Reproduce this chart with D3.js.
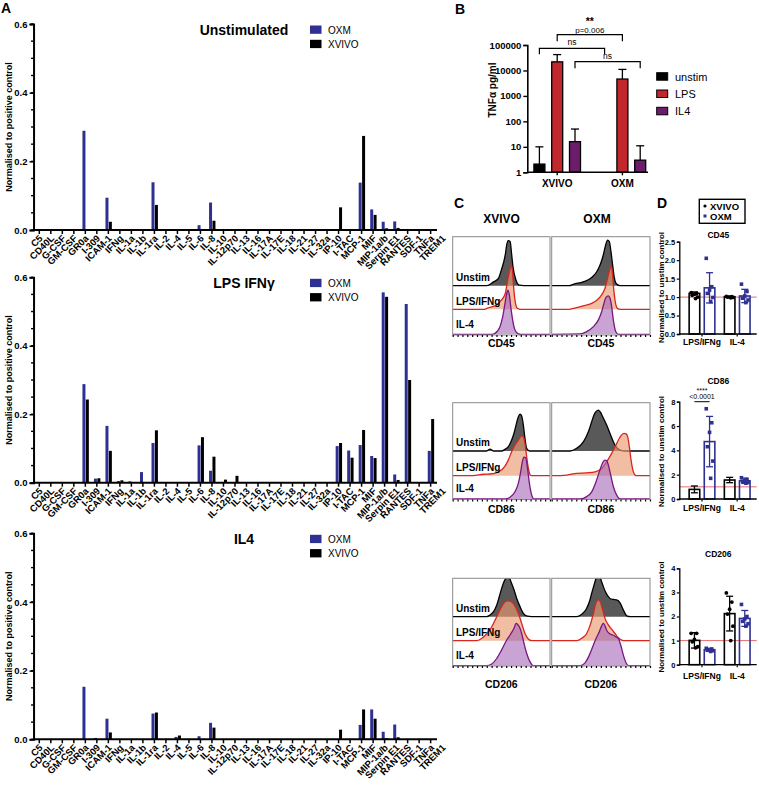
<!DOCTYPE html>
<html><head><meta charset="utf-8">
<script src="https://cdn.jsdelivr.net/npm/d3@7"></script>
<style>
body{margin:0;background:#fff;}
svg{display:block;font-family:"Liberation Sans",Arial,Helvetica,sans-serif;}
</style></head><body>
<svg id="fig" width="759" height="789"></svg>
<script>
// ---------------- DATA ----------------
const cytokines = ["C5","CD40L","G-CSF","GM-CSF","GR0a","I-309","ICAM-1","IFNg","IL-1a","IL-1b","IL-1ra","IL-2","IL-4","IL-5","IL-6","IL-8","IL-10","IL-12p70","IL-13","IL-16","IL-17A","IL-17E","IL-18","IL-21","IL-27","IL-32a","IP-10","I-TAC","MCP-1","MIF","MIP-1a/b","Serpin E1","RANTES","SDF-1","TNFa","TREM1"];
const unstimOXM   = [0, 0, 0, 0, 0.289,0.003,0.094,0,    0,    0,    0.139,0,  0,  0,  0.014,0.080,0,    0,    0, 0, 0,  0,  0, 0, 0, 0,  0,    0,    0.138,0.060,0.024,0.025,0,    0.002,0,    0];
const unstimXVIVO = [0, 0, 0, 0, 0,    0,    0.024,0,    0,    0,    0.073,0,  0,  0,  0,    0.027,0,    0,    0, 0, 0,  0,  0, 0, 0, 0,  0.066,0,    0.274,0.044,0.005,0.006,0,    0.002,0,    0];
const lpsOXM      = [0, 0, 0, 0, 0.288,0.012,0.166,0.005,0.004,0.031,0.116,0,  0,  0,  0.109,0.035,0,    0,    0, 0, 0,  0,  0, 0, 0, 0,  0.107,0.094,0.110,0.078,0.556,0.024,0.522,0.002,0.093,0];
const lpsXVIVO    = [0, 0, 0, 0, 0.243,0.013,0.093,0.007,0,    0,    0.153,0,  0,  0,  0.133,0.076,0.009,0.020,0, 0, 0,  0,  0, 0, 0, 0,  0.116,0.073,0.154,0.072,0.543,0.008,0.300,0,    0.186,0];
const il4OXM      = [0, 0, 0, 0, 0.153,0.004,0.060,0,    0,    0,    0.075,0,  0.007,0,0.009,0.048,0,    0,    0, 0, 0,  0,  0, 0, 0, 0,  0,    0,    0.042,0.087,0.022,0.043,0,    0,    0,    0];
const il4XVIVO    = [0, 0, 0, 0, 0,    0,    0.020,0,    0,    0,    0.078,0,  0.011,0,0,    0.034,0,    0,    0, 0, 0,  0,  0, 0, 0, 0,  0.028,0,    0.087,0.060,0.003,0.006,0,    0,    0,    0];
const yTicksA = [0, 0.2, 0.4, 0.6];

// Panel B: TNFa pg/ml
const mediaB = ["XVIVO","OXM"];
const condB = ["unstim","LPS","IL4"];
const tnfXVIVO    = [2.1, 21800, 16];
const tnfXVIVOTop = [10, 42000, 50];
const tnfOXM      = [null, 4600, 3];
const tnfOXMTop   = [null, 11000, 11];
const yTicksB = [1,10,100,1000,10000,100000];

// Panel C: flow histograms [channel, % of mode]
const hist = {
 CD45: {
  XVIVO: {
   unstim: [[0,0],[35,0],[42,8],[47,15],[50,33],[54,64],[55.5,85],[57,94],[59,92],[60.5,67],[62,39],[65,12],[68.5,1],[73,0],[100,0]],
   lps:    [[0,0],[33,0],[35,2],[45,9],[50,19],[54,33],[56.5,61],[59,85],[60,91],[61.3,82],[62.3,54],[64,19],[66.4,2],[69,0],[100,0]],
   il4:    [[0,0],[40,0],[43.5,2],[48.6,16],[51.4,37],[53.8,65],[55.5,85],[56.8,92],[58.2,82],[59.9,54],[61.6,30],[64,9],[67.5,1],[70,0],[100,0]]
  },
  OXM: {
   unstim: [[0,0],[18,0],[22,3],[32,8],[40.7,17],[45.8,29],[49.2,43],[52.5,64],[54.9,85],[56.9,95],[58.6,92],[60.3,71],[62,43],[63.7,17],[66,3.5],[69.5,0],[100,0]],
   lps:    [[0,0],[18,0],[22,2],[32,7],[40.7,12.5],[45.8,19],[50.8,30],[54.2,44],[56.9,65],[59.3,85],[60.3,90],[61.7,78],[62.7,51],[64.4,19],[66.8,2],[70,0],[100,0]],
   il4:    [[0,0],[28.8,0.7],[35.6,5.6],[42.4,16],[47.5,30],[50.8,47],[53.2,65],[55.3,77],[57.6,80],[59.3,75],[61,58],[62.7,30],[65.1,6],[68,0],[100,0]]
  }
 },
 CD86: {
  XVIVO: {
   unstim: [[0,0],[34.9,0],[38.4,4],[41.8,0],[50,0],[53.8,3.5],[57.2,9],[60.6,23],[63,37],[65.1,54],[67.5,71.5],[69.2,77],[70.9,73],[72.6,54],[74.3,26],[76,5.6],[79,0],[100,0]],
   lps:    [[0,0],[21,0],[31.5,3],[38.4,3.5],[46.9,8],[53.8,20],[57.2,33],[60.6,50],[64,64],[67.5,74],[70.9,83],[72.6,81],[74.3,67],[76,40],[78.1,12],[80,1],[82,0],[100,0]],
   il4:    [[0,0],[53.8,0],[58.9,3.5],[64,15],[67.5,33],[69.9,57],[71.6,78],[73.3,87],[75,86],[76.7,67],[78.8,33],[81.2,8],[83.6,0],[100,0]]
  },
  OXM: {
   unstim: [[0,0],[18.6,0],[25.4,5.6],[32.2,19],[37.3,40],[40.7,61],[43,75],[45.1,82],[47.5,85],[49.2,82],[51.9,71.5],[55.9,54],[60,33],[63.4,16],[66.8,5.6],[71,0.7],[74,0],[100,0]],
   lps:    [[0,0],[15.3,1.4],[25.4,5],[35.6,6],[44.1,8],[50.8,15],[55.9,29],[61,46.5],[65.4,64],[68.8,78],[71.2,85],[73.6,88],[75.6,87],[77.3,81],[79,60],[80.7,33],[83.1,8],[85.8,0],[100,0]],
   il4:    [[0,0],[28.8,0],[35.6,5],[40.7,15],[45.1,36],[48.5,57],[51.5,74],[54.2,81],[55.9,80],[57.6,71],[60,50],[62.7,26],[66.1,8],[69.5,0],[100,0]]
  }
 },
 CD206: {
  XVIVO: {
   unstim: [[0,0],[34.9,0],[38.4,3.5],[41.8,10],[45.2,24],[47.9,42],[50.3,59],[52.7,73],[54.8,80],[57.2,82],[58.9,78],[60.6,69],[63,56],[65.8,38],[69.2,21],[72.6,7],[76.7,1],[81,0],[100,0]],
   lps:    [[0,0],[24.7,0],[29.8,5],[34.9,14],[40.1,29],[45.2,50],[50.3,71],[53.8,81],[56.5,83],[58.9,82.6],[61.6,79],[64.4,71],[67.5,57],[70.9,36],[74.3,15],[77.7,3.5],[81.2,0],[100,0]],
   il4:    [[0,0],[34.9,0],[40.1,3.5],[45.2,15],[50.3,33],[55.5,53.5],[59.6,66],[63,78],[65.1,88],[66.8,86],[68.5,81],[70.9,67],[73.3,46.5],[76,26],[79.5,8],[83,0],[100,0]]
  },
  OXM: {
   unstim: [[0,0],[25.4,0],[30.5,5],[34.9,15],[38.3,31],[40.7,49],[43.1,66],[45.1,80],[46.8,87],[48.5,85],[50.8,73],[53.2,59],[55.9,47],[59.3,38],[62.7,36],[66.1,35],[69.5,29],[72.2,17],[74.6,7],[76.9,1],[80,0],[100,0]],
   lps:    [[0,0],[25.4,0],[30.5,5],[35.6,15],[39.7,36],[42.4,57],[44.4,74],[46.1,83],[47.8,85],[49.8,79],[51.9,64],[54.2,46.5],[57.6,33],[61,24],[64.4,15],[67.8,6],[71.2,1.4],[74.6,0],[100,0]],
   il4:    [[0,0],[28.8,0],[33.9,6],[38.3,22],[42.4,43],[45.8,60],[48.5,71],[50.8,83],[52.5,88],[54.2,83],[55.9,74],[58.6,67],[62,64],[65.4,60],[67.8,57],[70.2,43],[72.9,22],[75.6,6],[78.3,0],[100,0]]
  }
 }
};
const histRowLabels = ["Unstim","LPS/IFNg","IL-4"];

// Panel D: normalised to unstim control
const groupsD = ["LPS/IFNg","IL-4"];
const cd45Mean = {XVIVO:[1.10,1.01], OXM:[1.25,1.03]};
const cd45SD   = {XVIVO:[0.04,0.015], OXM:[0.41,0.18]};
const cd45Pts  = {XVIVO:[[1.12,1.10,1.08,1.05,1.00,0.96],[1.02,1.01,1.00,1.00,0.99,0.98]],
                  OXM:[[2.05,1.28,1.19,1.10,0.99,0.88],[1.35,1.15,1.03,0.97,0.92,0.85]]};
const cd86Mean = {XVIVO:[0.79,1.56], OXM:[4.72,1.50]};
const cd86SD   = {XVIVO:[0.28,0.22], OXM:[2.07,0.22]};
const cd86Pts  = {XVIVO:[[],[]],
                  OXM:[[7.42,6.27,5.48,4.30,3.12,1.70],[1.75,1.60,1.50,1.45,1.35,1.30]]};
const cd206Mean = {XVIVO:[1.01,2.12], OXM:[0.62,1.92]};
const cd206SD   = {XVIVO:[0.32,0.72], OXM:[0.06,0.33]};
const cd206Pts  = {XVIVO:[[1.30,1.30,1.05,0.95,0.75,0.70],[2.98,2.60,2.30,2.10,1.60,1.00]],
                   OXM:[[0.68,0.65,0.62,0.60,0.58,0.55],[2.50,2.00,1.90,1.80,1.70,1.60]]};
const dTicks45 = [0,0.5,1,1.5,2,2.5];
const dTicks86 = [0,2,4,6,8];
const dTicks206 = [0,1,2,3,4];

// ---------------- DRAWING ----------------
const svg = d3.select("#fig");
const BLUE = "#2e3192", RED = "#c1272d", PURPLE = "#6b1d6b";

function label(x, y, s, size, weight, anchor, fill) {
  return svg.append("text").attr("x", x).attr("y", y).text(s)
    .attr("font-size", size).attr("font-weight", weight || "bold")
    .attr("text-anchor", anchor || "start").attr("fill", fill || "#000");
}

// ===== Panel A =====
label(1, 13, "A", 14, "bold");
const xA = d3.scaleBand().domain(cytokines).range([33.55, 33.55 + 36 * 11.51]);
const subA = d3.scaleBand().domain(["OXM","XVIVO"])
  .range([xA.bandwidth()/2 - 2.9, xA.bandwidth()/2 + 3.5]).paddingInner(0.12);
const A_END = 437;
const panelsA = [
  {title:"Unstimulated", oxm:unstimOXM, xvivo:unstimXVIVO, top:24, bottom:230},
  {title:"LPS IFN\u03b3", oxm:lpsOXM, xvivo:lpsXVIVO, top:277.3, bottom:482.7},
  {title:"IL4", oxm:il4OXM, xvivo:il4XVIVO, top:533.3, bottom:739.3}
];
panelsA.forEach(p => {
  const y = d3.scaleLinear().domain([0, 0.6]).range([p.bottom, p.top]);
  const g = svg.append("g");
  const rows = cytokines.map((c, i) => ({c, OXM: p.oxm[i], XVIVO: p.xvivo[i]}));
  [["OXM", BLUE], ["XVIVO", "#000"]].forEach(([k, col]) => {
    g.selectAll(null).data(rows.filter(d => d[k] > 0 && xA(d.c) + subA(k) + subA.bandwidth() < A_END))
      .join("rect")
      .attr("x", d => xA(d.c) + subA(k)).attr("width", subA.bandwidth())
      .attr("y", d => y(d[k])).attr("height", d => y(0) - y(d[k]))
      .attr("fill", col);
  });
  const minor = g.append("g").attr("transform", `translate(${33.55},0)`);
  minor.selectAll("line").data(y.ticks(12)).join("line")
    .attr("x1", -2.5).attr("x2", 0).attr("y1", d => y(d)).attr("y2", d => y(d))
    .attr("stroke", "#000").attr("stroke-width", 1.4);
  const ya = g.append("g").attr("transform", `translate(${33.55},0)`)
    .call(d3.axisLeft(y).tickValues(yTicksA).tickFormat(d3.format(".1f")).tickSize(4).tickPadding(2));
  ya.select(".domain").attr("stroke-width", 2);
  ya.selectAll(".tick line").attr("stroke-width", 1.5);
  ya.selectAll("text").attr("font-size", 9.5).attr("font-weight", "bold").attr("font-family", null);
  const xa = g.append("g").attr("transform", `translate(0,${p.bottom})`)
    .call(d3.axisBottom(xA).tickSize(4));
  xa.select(".domain").remove();
  xa.selectAll(".tick line").attr("stroke-width", 1.5)
    .attr("opacity", d => xA(d) + xA.bandwidth()/2 < A_END ? 1 : 0);
  xa.selectAll("text").attr("font-size", 9.5).attr("font-weight", "bold").attr("font-family", null)
    .attr("y", null).attr("dy", null).attr("text-anchor", "end")
    .attr("transform", "translate(4,9) rotate(-45)");
  g.append("line").attr("x1", 33.55).attr("x2", A_END).attr("y1", p.bottom).attr("y2", p.bottom)
    .attr("stroke", "#000").attr("stroke-width", 2);
  svg.append("text").attr("transform", `translate(11.5,${(p.top + p.bottom)/2}) rotate(-90)`)
    .attr("text-anchor", "middle").attr("font-size", 9).attr("font-weight", "bold")
    .text("Normalised to positive control");
  label(244, p.top + 11, p.title, 14, "bold", "middle");
  [["OXM", BLUE], ["XVIVO", "#000"]].forEach(([k, col], i) => {
    svg.append("rect").attr("x", 310).attr("y", p.top + 1.5 + i * 14.3).attr("width", 11.5).attr("height", 8.3).attr("fill", col);
    label(328, p.top + 9.8 + i * 14.3, k, 10, "normal");
  });
});

// ===== Panel B =====
label(455, 14, "B", 14, "bold");
const yB = d3.scaleLog().domain([1, 100000]).range([172.3, 45]);
const xB = d3.scaleBand().domain(mediaB).range([524.6, 524.6 + 2 * 65.2]);
const subB = d3.scaleBand().domain(condB).range([xB.bandwidth()/2 - 23.3, xB.bandwidth()/2 + 23.3]).paddingInner(0.382);
const colB = {unstim:"#000", LPS:RED, IL4:PURPLE};
const bData = [];
mediaB.forEach(m => condB.forEach((c, i) => {
  const v = m === "XVIVO" ? tnfXVIVO[i] : tnfOXM[i];
  const t = m === "XVIVO" ? tnfXVIVOTop[i] : tnfOXMTop[i];
  if (v != null) bData.push({m, c, v, t});
}));
const gB = svg.append("g");
gB.selectAll(".eb").data(bData).join("g").each(function(d) {
  const cx = xB(d.m) + subB(d.c) + subB.bandwidth()/2;
  const s = d3.select(this);
  s.append("line").attr("x1", cx).attr("x2", cx).attr("y1", yB(d.v)).attr("y2", yB(d.t)).attr("stroke", "#000").attr("stroke-width", 1.3);
  s.append("line").attr("x1", cx - 4).attr("x2", cx + 4).attr("y1", yB(d.t)).attr("y2", yB(d.t)).attr("stroke", "#000").attr("stroke-width", 1.3);
});
gB.selectAll("rect").data(bData).join("rect")
  .attr("x", d => xB(d.m) + subB(d.c)).attr("width", subB.bandwidth())
  .attr("y", d => yB(d.v)).attr("height", d => yB(1) - yB(d.v))
  .attr("fill", d => colB[d.c]).attr("stroke", "#000").attr("stroke-width", 1.3);
const yaB = svg.append("g").attr("transform", "translate(527.3,0)")
  .call(d3.axisLeft(yB).tickValues(yTicksB).tickFormat(d3.format("d")).tickSize(4).tickPadding(2));
yaB.select(".domain").attr("stroke-width", 1.6);
yaB.selectAll(".tick line").attr("stroke-width", 1.4);
yaB.selectAll("text").attr("font-size", 9.5).attr("font-weight", "bold").attr("font-family", null);
svg.append("line").attr("x1", 527.3).attr("x2", 648).attr("y1", yB(1)).attr("y2", yB(1)).attr("stroke", "#000").attr("stroke-width", 1.6);
mediaB.forEach(m => {
  const cx = xB(m) + xB.bandwidth()/2;
  svg.append("line").attr("x1", cx).attr("x2", cx).attr("y1", yB(1)).attr("y2", yB(1) + 3).attr("stroke", "#000").attr("stroke-width", 1.4);
  label(cx, 187, m, 10, "bold", "middle");
});
svg.append("text").attr("transform", "translate(496,90) rotate(-90)").attr("text-anchor", "middle")
  .attr("font-size", 10).attr("font-weight", "bold").text("TNF\u03b1 pg/ml");
function bracket(c1, c2, y, drop) {
  const x1 = xB("XVIVO") + subB(c1) + subB.bandwidth()/2;
  const x2 = xB("OXM") + subB(c2) + subB.bandwidth()/2;
  svg.append("path").attr("d", `M${x1},${y + drop}V${y}H${x2}V${y + drop}`)
    .attr("fill", "none").attr("stroke", "#000").attr("stroke-width", 1.2);
  return (x1 + x2) / 2;
}
let bx = bracket("unstim", "unstim", 48.3, 6);
label(bx, 45, "ns", 8.5, "normal", "middle");
bx = bracket("LPS", "LPS", 34.7, 6.5);
label(bx, 33.3, "p=0.006", 8, "normal", "middle");
label(bx, 24.5, "**", 10.5, "bold", "middle");
bx = bracket("IL4", "IL4", 61.7, 6.5);
label(bx, 59, "ns", 8.5, "normal", "middle");
condB.forEach((c, i) => {
  svg.append("rect").attr("x", 656.7).attr("y", 72.7 + i * 17.3).attr("width", 11).attr("height", 7.5)
    .attr("fill", colB[c]).attr("stroke", "#000").attr("stroke-width", 1);
  label(675, 80.5 + i * 17.3, c, 11, "normal");
});

// ===== Panel C =====
label(454, 208, "C", 14, "bold");
label(501.5, 223, "XVIVO", 12, "bold", "middle");
label(597, 223, "OXM", 12, "bold", "middle");
const boxesC = [
  {marker:"CD45", top:236.7, base:[285.7, 309.3, 334.3], bottom:335},
  {marker:"CD86", top:402.7, base:[451, 475.7, 499], bottom:499.5},
  {marker:"CD206", top:578.3, base:[616.7, 640.7, 665.7], bottom:666}
];
const boxX = {XVIVO:[452.7, 550], OXM:[551.7, 650]};
const histStyle = {
  unstim:{fill:"#505050", op:0.95, stroke:"#000"},
  lps:{fill:"#ea9a72", op:0.65, stroke:"#d7261e"},
  il4:{fill:"#a366b5", op:0.6, stroke:"#7a1680"}
};
let clipId = 0;
boxesC.forEach(b => {
  ["XVIVO","OXM"].forEach(m => {
    const [x0, x1] = boxX[m];
    const hx = d3.scaleLinear().domain([0, 100]).range([x0, x1]);
    const id = "clip" + (clipId++);
    svg.append("clipPath").attr("id", id).append("rect")
      .attr("x", x0).attr("y", b.top).attr("width", x1 - x0).attr("height", b.bottom - b.top + 1);
    const g = svg.append("g").attr("clip-path", `url(#${id})`);
    ["unstim","lps","il4"].forEach((k, i) => {
      const base = b.base[i];
      const hs = d3.scaleLinear().domain([0, 100]).range([base, base - 48]);
      const area = d3.area().x(d => hx(d[0])).y0(base).y1(d => hs(d[1])).curve(d3.curveMonotoneX);
      const line = d3.line().x(d => hx(d[0])).y(d => hs(d[1])).curve(d3.curveMonotoneX);
      const data = hist[b.marker][m][k];
      g.append("path").attr("d", area(data)).attr("fill", histStyle[k].fill).attr("fill-opacity", histStyle[k].op);
      g.append("path").attr("d", line(data)).attr("fill", "none").attr("stroke", histStyle[k].stroke).attr("stroke-width", 1.3);
    });
    svg.append("rect").attr("x", x0).attr("y", b.top).attr("width", x1 - x0).attr("height", b.bottom - b.top)
      .attr("fill", "none").attr("stroke", "#8a8a8a").attr("stroke-width", 1);
    const ax = svg.append("g").attr("transform", `translate(0,${b.bottom})`)
      .call(d3.axisBottom(hx).ticks(20).tickSize(2).tickFormat(""));
    ax.select(".domain").remove();
    ax.selectAll(".tick line").attr("stroke-width", 1.2);
    label((x0 + x1) / 2, b.top + 110, b.marker, 10.5, "bold", "middle");
    if (m === "XVIVO") {
      histRowLabels.forEach((t, i) => {
        const yy = [b.base[0] - 5, b.base[1] - 4.3, b.base[2] - 6.6][i];
        label(x0 + 3.3, yy, t, 10, "bold");
      });
    }
  });
});

// ===== Panel D =====
label(657, 208, "D", 14, "bold");
svg.append("rect").attr("x", 699.3).attr("y", 199.3).attr("width", 45.7).attr("height", 24)
  .attr("fill", "#fff").attr("stroke", "#000").attr("stroke-width", 1.4);
svg.append("circle").attr("cx", 705).attr("cy", 206).attr("r", 1.6).attr("fill", "#000");
label(710, 209.5, "XVIVO", 9.5, "bold");
svg.append("rect").attr("x", 703.5).attr("y", 214.5).attr("width", 3).attr("height", 3).attr("fill", BLUE);
label(710, 219.5, "OXM", 9.5, "bold");

const xD = d3.scaleBand().domain(groupsD).range([684.4, 684.4 + 2 * 35.2]);
const subD = d3.scaleBand().domain(["XVIVO","OXM"]).range([4.75, 30.45]).paddingInner(0.3);
const colD = {XVIVO:"#000", OXM:BLUE};
const panelsD = [
  {title:"CD45", titleY:238, dom:[0,2.5], range:[334,241.7], ticks:dTicks45, fmt:".1f", xlabY:344.5, ytitleY:287.5,
   mean:cd45Mean, sd:cd45SD, pts:cd45Pts},
  {title:"CD86", titleY:383.5, dom:[0,8], range:[499,401.7], ticks:dTicks86, fmt:"d", xlabY:510.5, ytitleY:451.5,
   mean:cd86Mean, sd:cd86SD, pts:cd86Pts, sig:true},
  {title:"CD206", titleY:556.5, dom:[0,4], range:[664.7,568.3], ticks:dTicks206, fmt:"d", xlabY:678.5, ytitleY:617,
   mean:cd206Mean, sd:cd206SD, pts:cd206Pts}
];
const jitter = i => ((i * 5) % 7 - 3) * 1.1;
panelsD.forEach(p => {
  const y = d3.scaleLinear().domain(p.dom).range(p.range);
  const g = svg.append("g");
  label(718.3, p.titleY, p.title, 8.5, "bold", "middle");
  g.append("line").attr("x1", 679.3).attr("x2", 756.7).attr("y1", y(1)).attr("y2", y(1))
    .attr("stroke", "#e35b5b").attr("stroke-width", 0.9);
  ["XVIVO","OXM"].forEach(m => {
    groupsD.forEach((grp, gi) => {
      const x0 = xD(grp) + subD(m), w = subD.bandwidth(), cx = x0 + w / 2;
      const v = p.mean[m][gi], s = p.sd[m][gi];
      g.append("rect").attr("x", x0).attr("width", w).attr("y", y(v)).attr("height", y(0) - y(v))
        .attr("fill", "none").attr("stroke", colD[m]).attr("stroke-width", 1.6);
      const ylo = y(Math.max(0, v - s)), yhi = y(v + s);
      g.append("line").attr("x1", cx).attr("x2", cx).attr("y1", ylo).attr("y2", yhi).attr("stroke", colD[m]).attr("stroke-width", 1.3);
      [ylo, yhi].forEach(yy => g.append("line").attr("x1", cx - 3.5).attr("x2", cx + 3.5).attr("y1", yy).attr("y2", yy)
        .attr("stroke", colD[m]).attr("stroke-width", 1.3));
      p.pts[m][gi].forEach((pv, i) => {
        const px = cx + jitter(i);
        if (m === "XVIVO") g.append("circle").attr("cx", px).attr("cy", y(pv)).attr("r", 1.9).attr("fill", "#000");
        else g.append("rect").attr("x", px - 1.8).attr("y", y(pv) - 1.8).attr("width", 3.6).attr("height", 3.6).attr("fill", BLUE);
      });
    });
  });
  const ya = svg.append("g").attr("transform", "translate(679.3,0)")
    .call(d3.axisLeft(y).tickValues(p.ticks).tickFormat(d3.format(p.fmt)).tickSize(2.5).tickPadding(1.5));
  ya.select(".domain").attr("stroke-width", 1.3);
  ya.selectAll(".tick line").attr("stroke-width", 1.2);
  ya.selectAll("text").attr("font-size", 7.5).attr("font-weight", "bold").attr("font-family", null);
  svg.append("line").attr("x1", 679.3).attr("x2", 756.7).attr("y1", y(0)).attr("y2", y(0)).attr("stroke", "#000").attr("stroke-width", 1.3);
  groupsD.forEach(grp => {
    const cx = xD(grp) + xD.bandwidth() / 2;
    svg.append("line").attr("x1", cx).attr("x2", cx).attr("y1", y(0)).attr("y2", y(0) + 2.5).attr("stroke", "#000").attr("stroke-width", 1.2);
    label(cx, p.xlabY, grp, 8.5, "bold", "middle");
  });
  svg.append("text").attr("transform", `translate(663.5,${p.ytitleY}) rotate(-90)`).attr("text-anchor", "middle")
    .attr("font-size", 8).attr("font-weight", "bold").text("Normalised to unstim control");
  if (p.sig) {
    const x1 = xD("LPS/IFNg") + subD("XVIVO") + subD.bandwidth() / 2;
    const x2 = xD("LPS/IFNg") + subD("OXM") + subD.bandwidth() / 2;
    svg.append("line").attr("x1", x1).attr("x2", x2).attr("y1", 401.7).attr("y2", 401.7).attr("stroke", "#000").attr("stroke-width", 1);
    label((x1 + x2) / 2, 392.5, "****", 7, "normal", "middle");
    label((x1 + x2) / 2, 399.3, "<0.0001", 7, "normal", "middle");
  }
});
</script>
</body></html>
